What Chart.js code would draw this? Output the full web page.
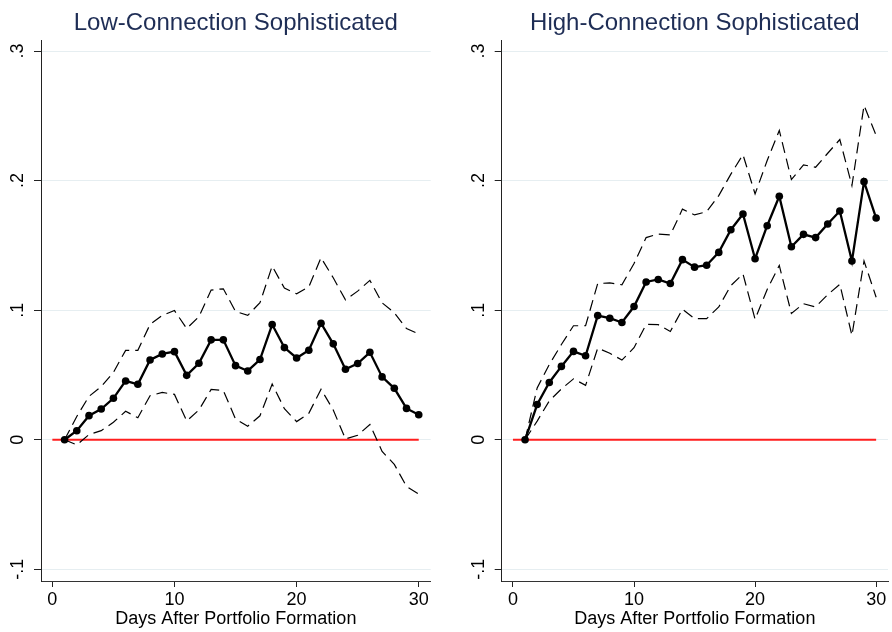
<!DOCTYPE html>
<html>
<head>
<meta charset="utf-8">
<script src="https://cdn.jsdelivr.net/npm/chart.js@4.4.1/dist/chart.umd.min.js"></script>
<style>
  html, body { margin: 0; padding: 0; background: #fff; }
  #wrap { position: relative; width: 892px; height: 632px; overflow: hidden; }
  canvas { position: absolute; top: 0; }
  #c1 { left: 0; }
  #c2 { left: 446px; }
</style>
</head>
<body>
<div id="wrap">
  <canvas id="c1" width="446" height="632"></canvas>
  <canvas id="c2" width="446" height="632"></canvas>
</div>
<script>
// ---------- data ----------
const days = [1,2,3,4,5,6,7,8,9,10,11,12,13,14,15,16,17,18,19,20,21,22,23,24,25,26,27,28,29,30];

const panelTitles = ['Low-Connection Sophisticated', 'High-Connection Sophisticated'];
const xAxisTitle = 'Days After Portfolio Formation';

const xTickValues = [0, 10, 20, 30];
const xTickLabels = ['0', '10', '20', '30'];
const yTickValues = [-0.1, 0, 0.1, 0.2, 0.3];
const yTickLabels = ['-.1', '0', '.1', '.2', '.3'];

const lowMean  = [0, 0.007, 0.0186, 0.0237, 0.032, 0.0454, 0.0428, 0.0616, 0.0662, 0.068, 0.0497, 0.059, 0.0771, 0.0771, 0.0572, 0.0531, 0.0619, 0.0889, 0.0711, 0.0631, 0.0691, 0.0899, 0.074, 0.0544, 0.0588, 0.0675, 0.0485, 0.0397, 0.0242, 0.0193];
const lowUpper = [0, 0.018, 0.0335, 0.041, 0.052, 0.069, 0.069, 0.089, 0.096, 0.0997, 0.0858, 0.095, 0.1155, 0.1165, 0.099, 0.096, 0.1057, 0.134, 0.117, 0.1126, 0.118, 0.1405, 0.125, 0.108, 0.1147, 0.123, 0.1057, 0.098, 0.0858, 0.0817];
const lowLower = [0, -0.004, 0.004, 0.007, 0.0135, 0.022, 0.017, 0.034, 0.0365, 0.035, 0.0145, 0.023, 0.0388, 0.038, 0.016, 0.0105, 0.0185, 0.043, 0.024, 0.014, 0.0204, 0.039, 0.023, 0.0006, 0.0035, 0.0118, -0.009, -0.019, -0.036, -0.042];

const highMean  = [0, 0.0272, 0.0442, 0.0566, 0.0682, 0.0648, 0.0958, 0.0938, 0.0905, 0.1028, 0.1218, 0.1237, 0.1206, 0.139, 0.1332, 0.1347, 0.1446, 0.1621, 0.1742, 0.1397, 0.1652, 0.1879, 0.149, 0.1585, 0.156, 0.1665, 0.1765, 0.1379, 0.1992, 0.1711];
const highUpper = [0, 0.04, 0.058, 0.0735, 0.088, 0.088, 0.1206, 0.121, 0.1196, 0.136, 0.156, 0.1588, 0.158, 0.178, 0.1735, 0.176, 0.1884, 0.205, 0.22, 0.1897, 0.2155, 0.2387, 0.2008, 0.2121, 0.2103, 0.2211, 0.2317, 0.1961, 0.258, 0.2348];
const highLower = [0, 0.0144, 0.03, 0.0392, 0.047, 0.042, 0.0707, 0.0668, 0.0615, 0.071, 0.089, 0.0888, 0.0836, 0.1008, 0.0935, 0.0935, 0.1025, 0.119, 0.128, 0.093, 0.116, 0.1345, 0.0975, 0.105, 0.1025, 0.112, 0.12, 0.0805, 0.138, 0.11];

const zeroLineX = [0, 30];
const zeroLineY = [0, 0];

// ---------- chart building ----------
const FONT = '"Liberation Sans", Arial, Helvetica, sans-serif';

function pts(xs, ys) { return xs.map((x, i) => ({ x: x, y: ys[i] })); }

function labelFor(values, labels, v) {
  const i = values.findIndex(t => Math.abs(t - v) < 1e-9);
  return i >= 0 ? labels[i] : '';
}

function makePanel(id, title, mean, upper, lower, padLeft, padRight) {
  new Chart(document.getElementById(id), {
    type: 'line',
    data: {
      datasets: [
        { data: pts(days, mean), borderColor: '#000', backgroundColor: '#000', borderWidth: 2.3,
          pointRadius: 3.8, pointBackgroundColor: '#000', pointBorderWidth: 0, order: 0 },
        { data: pts(days, upper), borderColor: '#000', borderWidth: 1.2, borderDash: [11, 6],
          pointRadius: 0, order: 1 },
        { data: pts(days, lower), borderColor: '#000', borderWidth: 1.2, borderDash: [11, 6],
          pointRadius: 0, order: 1 },
        { data: pts(zeroLineX, zeroLineY), borderColor: '#ff1e1e', borderWidth: 2,
          pointRadius: 0, order: 2 }
      ]
    },
    options: {
      responsive: false,
      animation: false,
      devicePixelRatio: 1,
      layout: { padding: { left: padLeft, right: padRight, top: 0, bottom: 0 } },
      plugins: {
        legend: { display: false },
        tooltip: { enabled: false },
        title: {
          display: true, text: title, fullSize: false, color: '#1e2d55',
          font: { family: FONT, size: 24, weight: 'normal' },
          padding: { top: 9, bottom: 2.2 }
        }
      },
      scales: {
        x: {
          type: 'linear', min: -0.93, max: 30.98,
          afterBuildTicks: s => { s.ticks = xTickValues.map(v => ({ value: v })); },
          afterFit: s => { s.height = 51; },
          ticks: {
            autoSkip: false, maxRotation: 0, minRotation: 0, padding: 2, color: '#000',
            font: { family: FONT, size: 18 },
            callback: v => labelFor(xTickValues, xTickLabels, v)
          },
          grid: { drawOnChartArea: false, tickLength: 6, tickColor: '#222', lineWidth: 1 },
          border: { display: true, color: '#333', width: 1 },
          title: {
            display: true, text: xAxisTitle, color: '#000',
            font: { family: FONT, size: 18 }, padding: { top: 0, bottom: 2 }
          }
        },
        y: {
          type: 'linear', min: -0.109, max: 0.3085,
          afterBuildTicks: s => { s.ticks = yTickValues.map(v => ({ value: v })); },
          afterFit: s => { s.width = 41; },
          ticks: {
            autoSkip: false, minRotation: 90, maxRotation: 90, crossAlign: 'center',
            padding: 5, color: '#000', font: { family: FONT, size: 18 },
            callback: v => labelFor(yTickValues, yTickLabels, v)
          },
          grid: { color: '#e6eef1', lineWidth: 1, tickLength: 7, tickColor: '#222' },
          border: { display: true, color: '#222', width: 1 }
        }
      }
    }
  });
}

makePanel('c1', panelTitles[0], lowMean, lowUpper, lowLower, 0, 15.3);
makePanel('c2', panelTitles[1], highMean, highUpper, highLower, 14.7, 1);
</script>
</body>
</html>
